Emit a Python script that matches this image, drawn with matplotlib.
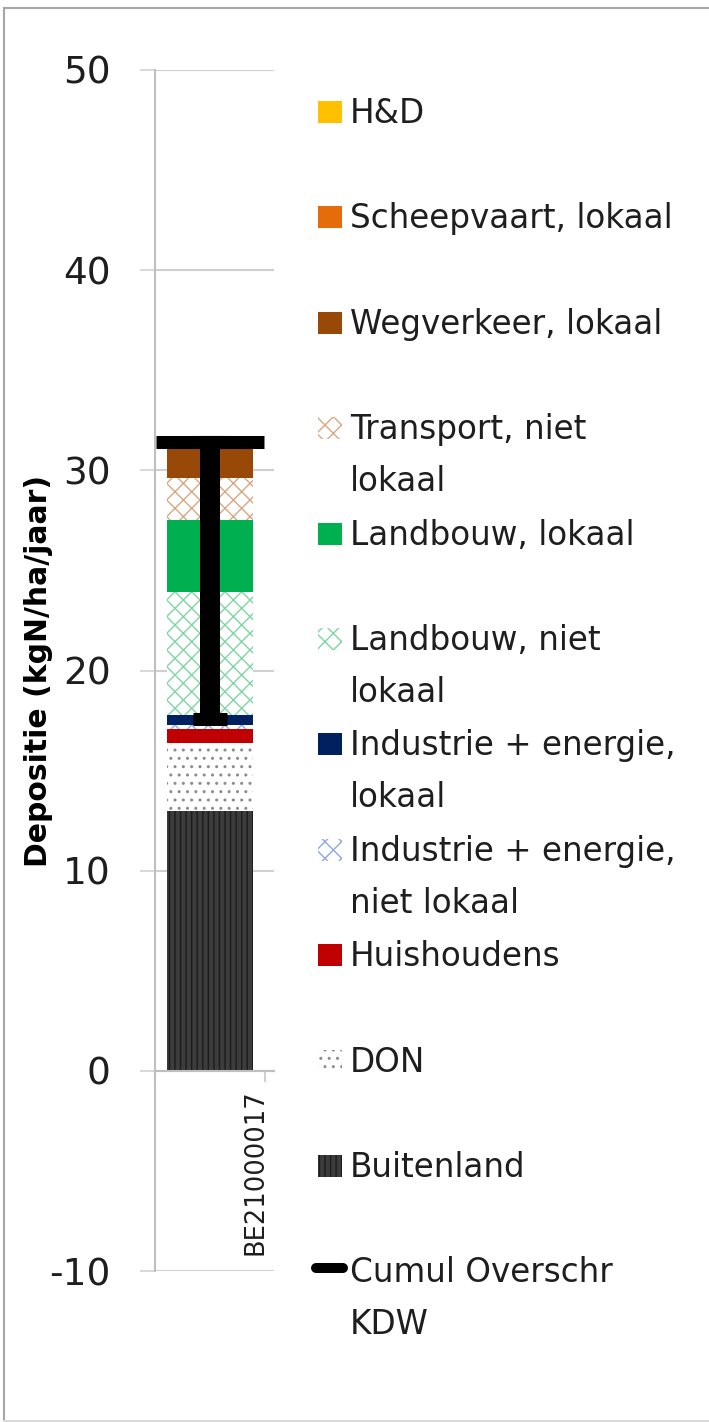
import matplotlib
matplotlib.use('Agg')
import matplotlib.pyplot as plt
from matplotlib.patches import Rectangle
from matplotlib.lines import Line2D
from matplotlib.transforms import ScaledTranslation

plt.rcParams['font.family'] = ['DejaVu Sans']
plt.rcParams['axes.unicode_minus'] = False
plt.rcParams['hatch.linewidth'] = 1.0

# ---------------- data ----------------
categories = ['BE21000017']
series_names = ['Buitenland', 'DON', 'Huishoudens',
                'Industrie + energie,\nniet lokaal', 'Industrie + energie,\nlokaal',
                'Landbouw, niet\nlokaal', 'Landbouw, lokaal',
                'Transport, niet\nlokaal', 'Wegverkeer, lokaal',
                'Scheepvaart, lokaal', 'H&D']
values = [13.0, 3.4, 0.7, 0.2, 0.5, 6.1, 3.6, 2.1, 1.5, 0.0, 0.0]
face_colors = ['#3c3c3c', 'white', '#c00000', 'white', '#002060', 'white',
               '#00b050', 'white', '#984807', '#e46c0a', '#ffc000']
hatch_colors = ['#1c1c1c', '#8c8c8c', None, '#8faadc', None, '#7fd6a2',
                None, '#d9a77f', None, None, None]
hatches = ['|||', '..', None, 'xx', None, 'xx', None, 'xx', None, None, None]

kdw_label = 'Cumul Overschr\nKDW'
total_marker = [31.4]
kdw_level = [17.6]
y_ticks = [-10, 0, 10, 20, 30, 40, 50]
y_label = 'Depositie (kgN/ha/jaar)'

# ---------------- figure ----------------
W, H = 709, 1422
fig = plt.figure(figsize=(W / 100, H / 100), dpi=100)

def fx(x):
    return x / W

def fy(y):
    return 1 - y / H

ax_l, ax_r, ax_t, ax_b = 155, 274, 70, 1271
cat_r = 265  # right category boundary (pixel)
ax = fig.add_axes([fx(ax_l), fy(ax_b), fx(ax_r - ax_l), (ax_b - ax_t) / H])

grid_c = '#d0d0d0'
axis_c = '#bfbfbf'
text_c = '#1e1e1e'

x = list(range(len(categories)))
bottom = [0.0] * len(categories)
bar_w = 0.78
for name, v, fc, hc, ht in zip(series_names, values, face_colors, hatch_colors, hatches):
    vals = [v]
    if ht:
        ax.bar(x, vals, bar_w, bottom=bottom, color=fc, edgecolor=hc,
               hatch=ht, linewidth=0, zorder=2)
    else:
        ax.bar(x, vals, bar_w, bottom=bottom, color=fc, linewidth=0, zorder=2)
    bottom = [b + vv for b, vv in zip(bottom, vals)]

exceed = [t - k for t, k in zip(total_marker, kdw_level)]
ax.errorbar(x, total_marker, yerr=[exceed, [0] * len(x)], fmt='_',
            color='black', ms=78, mew=9.4, elinewidth=14.4,
            capsize=12, capthick=6.5, zorder=5)

ax.set_xlim(-0.5, 0.5 + (ax_r - cat_r) / (cat_r - ax_l))
ax.set_ylim(-10, 50)
ax.set_yticks(y_ticks)
ax.yaxis.grid(True, color=grid_c, linewidth=1.5, zorder=0)
ax.set_axisbelow(True)
ax.tick_params(axis='y', direction='out', length=10.8, width=1.1, color=grid_c,
               labelsize=27, labelcolor=text_c, pad=21)

for s in ['top', 'right']:
    ax.spines[s].set_visible(False)
ax.spines['left'].set_color(axis_c)
ax.spines['left'].set_linewidth(1.5)
ax.spines['bottom'].set_position(('data', 0))
ax.spines['bottom'].set_color(axis_c)
ax.spines['bottom'].set_linewidth(1.5)

ax.set_xticks(x, labels=categories)
ax.set_xticks([-0.5, 0.5], minor=True)
ax.tick_params(axis='x', which='major', length=0, pad=13.5, labelsize=18.5,
               labelcolor=text_c, labelrotation=90)
ax.tick_params(axis='x', which='minor', length=8, width=1.5, color=grid_c,
               direction='out')
for lab in ax.get_xticklabels():
    lab.set_transform(lab.get_transform() + ScaledTranslation(0.46, 0, fig.dpi_scale_trans))

ax.set_ylabel(y_label, fontsize=21.5, fontweight='bold', color='black')
ax.yaxis.label.set(ha='center', va='center', rotation_mode='anchor')
ax.yaxis.set_label_coords((38 - ax_l) / (ax_r - ax_l), 0.5)

# ---------------- legend ----------------
legend_entries = list(zip(series_names, face_colors, hatch_colors, hatches))[::-1]
base0, step, line_gap = 123, 105.4, 52
leg_fs = 23.5
for i, (name, fc, hc, ht) in enumerate(legend_entries):
    base = base0 + i * step
    if ht:
        p = Rectangle((fx(318), fy(base)), 24 / W, 22 / H, transform=fig.transFigure,
                      facecolor=fc, edgecolor=hc, hatch=ht, linewidth=0)
    else:
        p = Rectangle((fx(318), fy(base)), 24 / W, 22 / H, transform=fig.transFigure,
                      facecolor=fc, linewidth=0)
    fig.add_artist(p)
    for k, line in enumerate(name.split('\n')):
        fig.text(fx(350), fy(base + k * line_gap), line, ha='left', va='baseline',
                 fontsize=leg_fs, color=text_c)

base = base0 + len(legend_entries) * step
fig.add_artist(Line2D([fx(316), fx(343)], [fy(base - 14)] * 2, transform=fig.transFigure,
                      color='black', linewidth=7.2, solid_capstyle='round'))
for k, line in enumerate(kdw_label.split('\n')):
    fig.text(fx(350), fy(base + k * line_gap), line, ha='left', va='baseline',
             fontsize=leg_fs, color=text_c)

# ---------------- frame ----------------
frame_c = '#a6a6a6'
fig.add_artist(Line2D([fx(3.5), fx(3.5)], [fy(7.5), fy(1421)], transform=fig.transFigure,
                      color=frame_c, linewidth=1.5))
fig.add_artist(Line2D([fx(3.5), fx(709)], [fy(7.5), fy(7.5)], transform=fig.transFigure,
                      color=frame_c, linewidth=1.5))
fig.add_artist(Line2D([fx(3.5), fx(709)], [fy(1421), fy(1421)], transform=fig.transFigure,
                      color='#d9d9d9', linewidth=1.5))

fig.savefig('out.png', dpi=100, facecolor='white')
